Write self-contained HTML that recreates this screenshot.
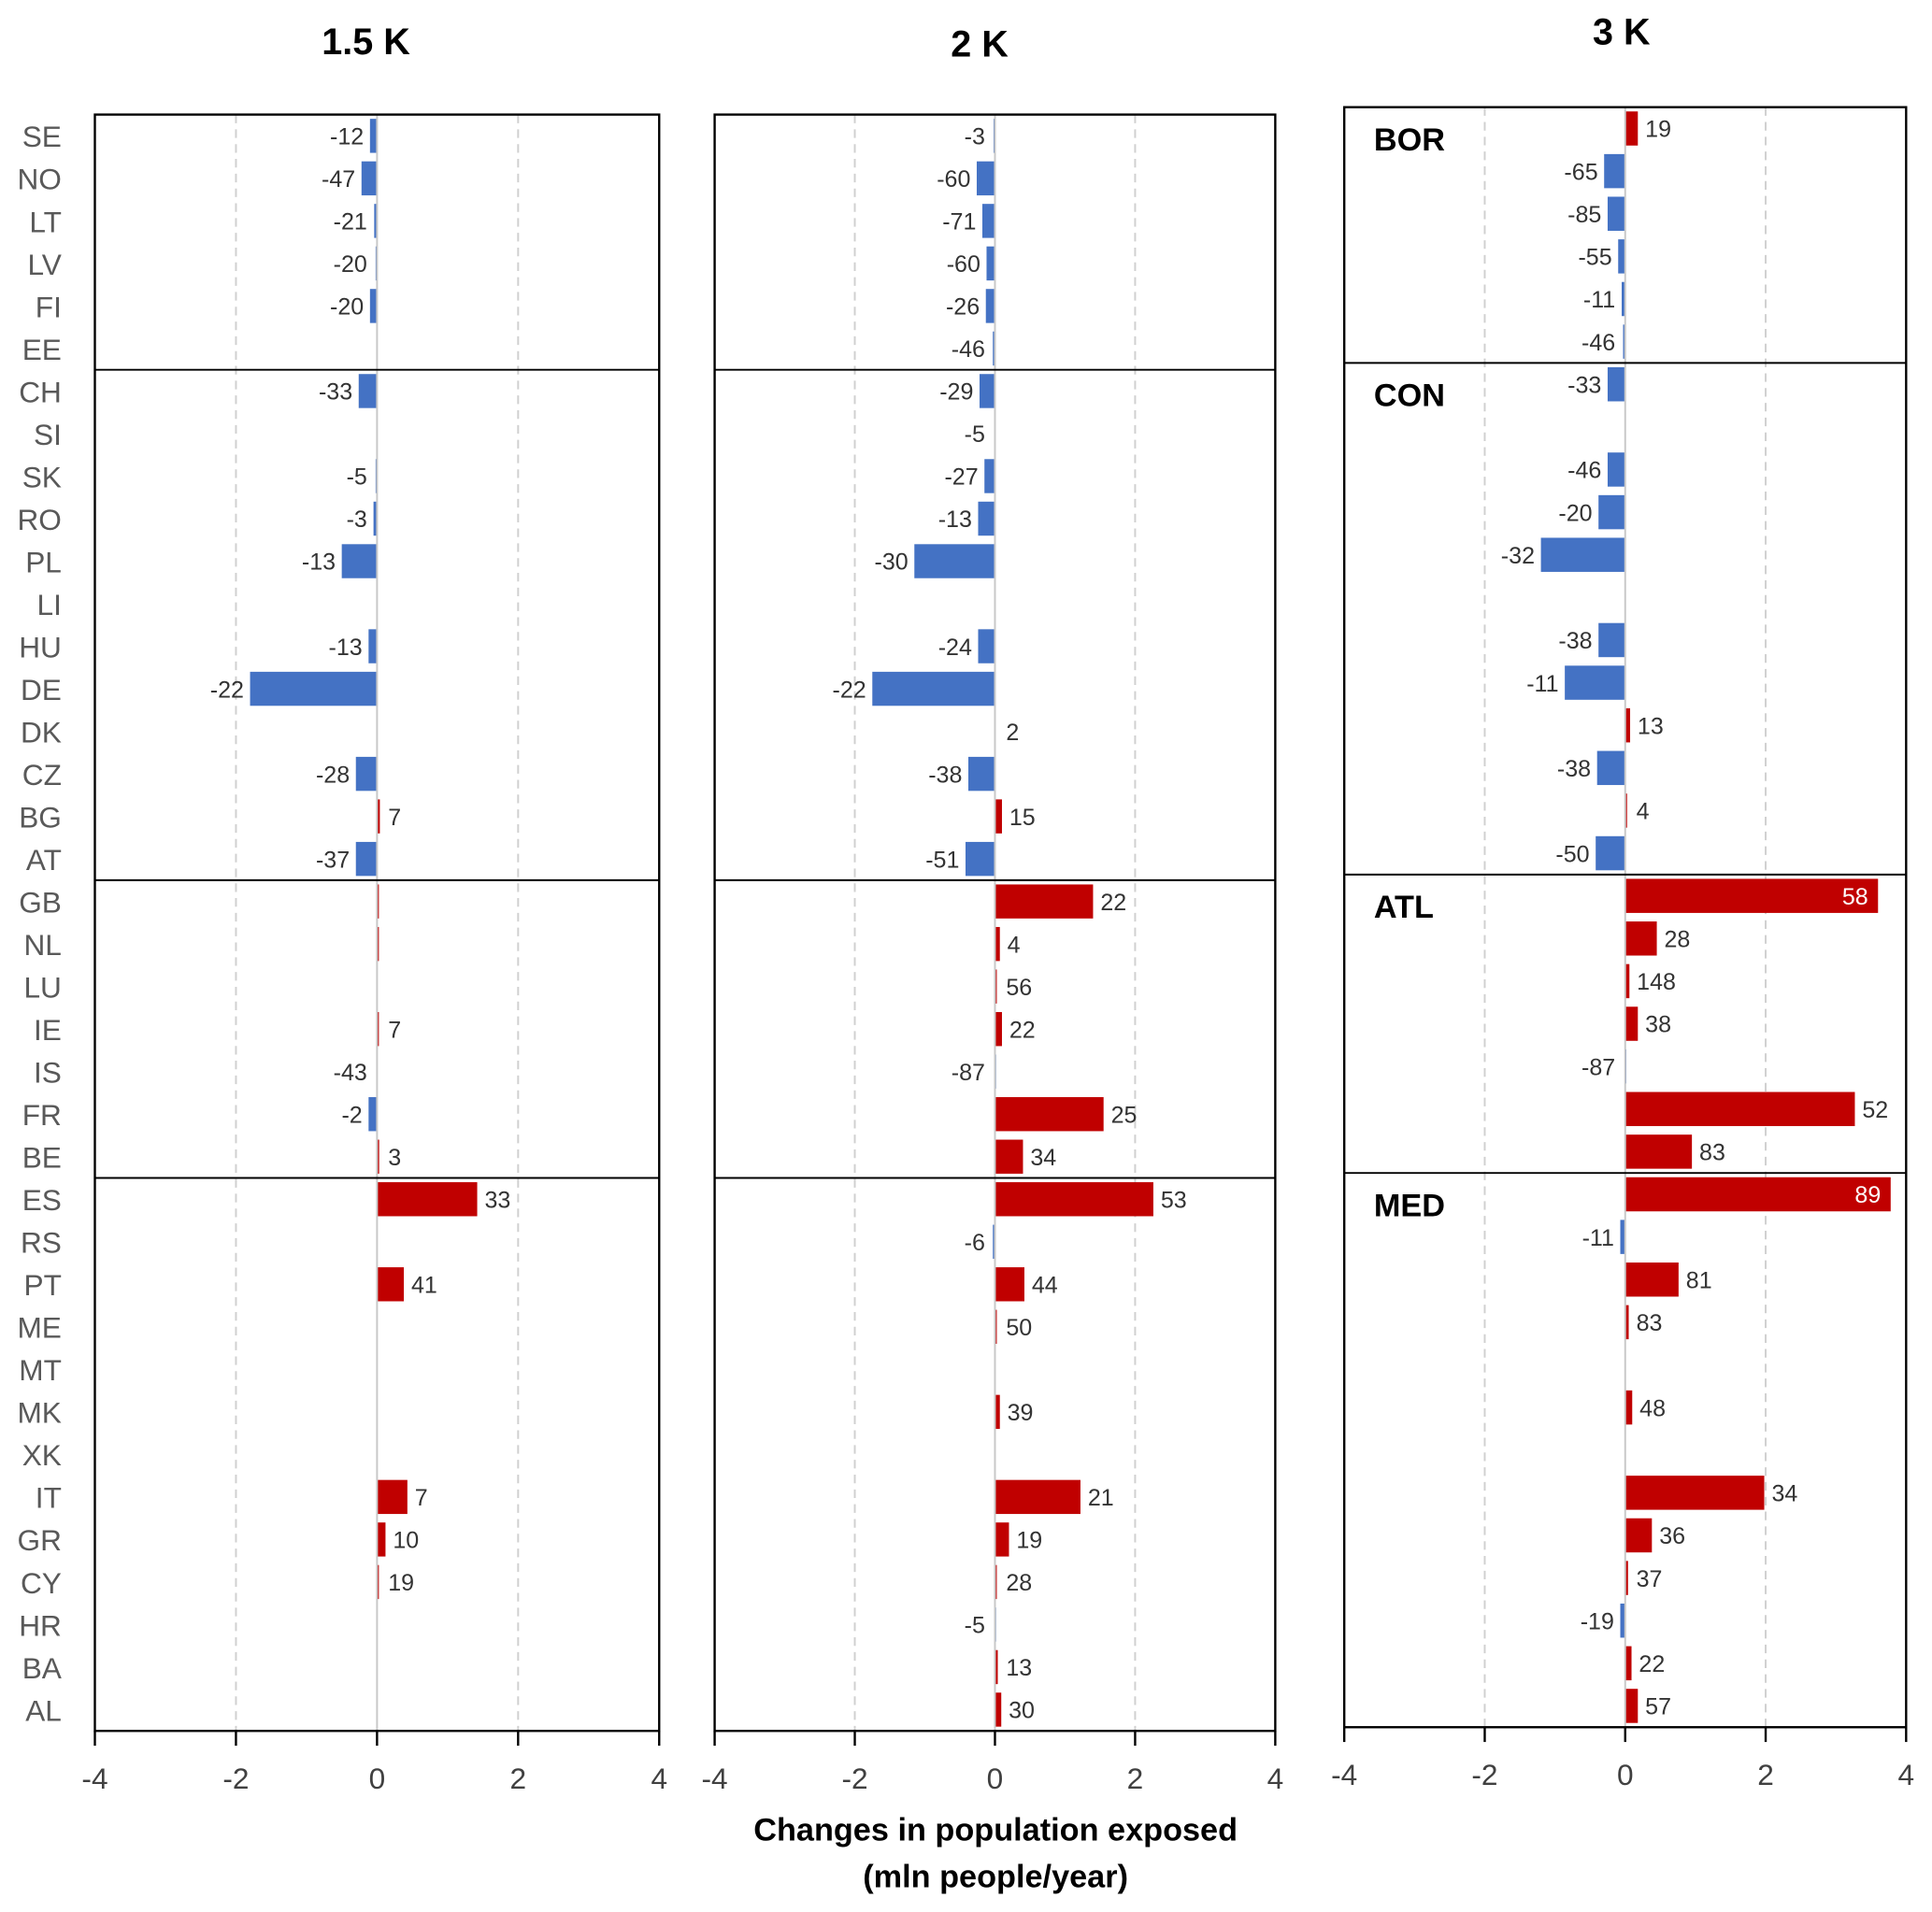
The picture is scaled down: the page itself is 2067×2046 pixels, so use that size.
<!DOCTYPE html>
<html><head><meta charset="utf-8"><style>
html,body{margin:0;padding:0;background:#fff;}
svg{display:block;font-family:"Liberation Sans",sans-serif;}
</style></head><body>
<svg id="chart" width="2067" height="2046" viewBox="0 0 1568 1552" preserveAspectRatio="none" xmlns="http://www.w3.org/2000/svg"></svg>
<script>
const categories = ["SE","NO","LT","LV","FI","EE","CH","SI","SK","RO","PL","LI","HU","DE","DK","CZ","BG","AT","GB","NL","LU","IE","IS","FR","BE","ES","RS","PT","ME","MT","MK","XK","IT","GR","CY","HR","BA","AL"];
const regions = ["BOR","CON","ATL","MED"];
const regionSizes = [6,12,7,13];
const panelTitles = ["1.5 K","2 K","3 K"];
const xTicks = [-4,-2,0,2,4];
const values15 = [-0.1,-0.22,-0.04,-0.02,-0.1,0,-0.26,0,-0.02,-0.05,-0.5,0,-0.12,-1.8,0,-0.3,0.04,-0.3,0.01,0.005,0,0.02,0,-0.12,0.03,1.42,0,0.38,0,0,0,0,0.43,0.12,0.01,0,0,0];
const labels15 = ["-12","-47","-21","-20","-20","","-33","","-5","-3","-13","","-13","-22","","-28","7","-37","","","","7","-43","-2","3","33","","41","","","","","7","10","19","","",""];
const values2 = [-0.02,-0.26,-0.18,-0.12,-0.13,-0.03,-0.22,0,-0.15,-0.24,-1.15,0,-0.24,-1.75,0,-0.38,0.1,-0.42,1.4,0.07,0.02,0.1,-0.01,1.55,0.4,2.26,-0.03,0.42,0.02,0,0.07,0,1.22,0.2,0.02,-0.01,0.04,0.09];
const labels2 = ["-3","-60","-71","-60","-26","-46","-29","-5","-27","-13","-30","","-24","-22","2","-38","15","-51","22","4","56","22","-87","25","34","53","-6","44","50","","39","","21","19","28","-5","13","30"];
const values3 = [0.18,-0.3,-0.25,-0.1,-0.05,-0.03,-0.25,0,-0.25,-0.38,-1.2,0,-0.38,-0.86,0.07,-0.4,0.02,-0.42,3.6,0.45,0.06,0.18,-0.01,3.27,0.95,3.78,-0.07,0.76,0.05,0,0.1,0,1.98,0.38,0.04,-0.07,0.09,0.18];
const labels3 = ["19","-65","-85","-55","-11","-46","-33","","-46","-20","-32","","-38","-11","13","-38","4","-50","58","28","148","38","-87","52","83","89","-11","81","83","","48","","34","36","37","-19","22","57"];

const NS="http://www.w3.org/2000/svg";
const svg=document.getElementById('chart');
function mk(tag,attrs,parent){const e=document.createElementNS(NS,tag);for(const k in attrs)e.setAttribute(k,attrs[k]);(parent||svg).appendChild(e);return e;}

const panels=[
 {x0:77,x1:535,y0:93,y1:1405,vals:values15,labs:labels15,title:panelTitles[0],tx:297,ty:44,name:'panel-1-5k',cats:true,reg:false},
 {x0:580,x1:1035,y0:93,y1:1405,vals:values2,labs:labels2,title:panelTitles[1],tx:795,ty:46,name:'panel-2k',cats:false,reg:false},
 {x0:1091,x1:1547,y0:87,y1:1402,vals:values3,labs:labels3,title:panelTitles[2],tx:1316,ty:36,name:'panel-3k',cats:false,reg:true}
];

panels.forEach((p,pi)=>{
  const g=mk('g',{});
  
  
  const xs=v=>p.x0+(v+4)/8*(p.x1-p.x0);
  const n=categories.length;
  const rh=(p.y1-p.y0)/n;
  const ys=i=>p.y0+(i+0.5)*rh;
  const t=mk('text',{x:p.tx,y:p.ty,'text-anchor':'middle','font-size':30,'font-weight':'bold',fill:'#000'},g);
  t.textContent=p.title;
  
  
  xTicks.forEach(v=>{
    if(v===-2||v===2){const l=mk('line',{x1:xs(v),x2:xs(v),y1:p.y0,y2:p.y1,stroke:'#d0d0d0','stroke-width':1.5,'stroke-dasharray':'7,5'},g);
      
      }
  });
  p.vals.forEach((v,i)=>{
    const y=ys(i), h=rh*0.8;
    if(v!==0){
      const a=xs(0),b=xs(v);
      const r=mk('rect',{x:Math.min(a,b),y:y-h/2,width:Math.max(Math.abs(b-a),1.5),height:h,fill:v>0?'#c00000':'#4472c4'},g);
      
      
    }
    const lab=p.labs[i];
    if(lab!==''){
      let x,anchor,fill='#333';
      if(v>=3.5){x=xs(v)-8;anchor='end';fill='#fff';}
      else if(v>0||(v===0&&!lab.startsWith('-'))){x=Math.max(xs(v),xs(0)+3)+6;anchor='start';}
      else {x=Math.min(xs(v),xs(0)-3)-5;anchor='end';}
      const tl=mk('text',{x:x,y:y+7,'text-anchor':anchor,'font-size':19,fill:fill},g);
      tl.textContent=lab;
      
      
    }
    if(p.cats){
      const c=mk('text',{x:50,y:y+9,'text-anchor':'end','font-size':24,fill:'#595959'},g);
      c.textContent=categories[i];
      
      
    }
  });
  const z=mk('line',{x1:xs(0),x2:xs(0),y1:p.y0,y2:p.y1,stroke:'#c8c8c8','stroke-width':1.5},g);
  
  
  let acc=0;
  regionSizes.forEach((s,ri)=>{
    if(p.reg){
      const rt=mk('text',{x:p.x0+24,y:p.y0+acc*rh+35,'font-size':26,'font-weight':'bold',fill:'#000'},g);
      rt.textContent=regions[ri];
      
      
    }
    acc+=s;
    if(ri<regionSizes.length-1){
      const d=mk('line',{x1:p.x0,x2:p.x1,y1:p.y0+acc*rh,y2:p.y0+acc*rh,stroke:'#000','stroke-width':1.5},g);
      
      
    }
  });
  const fr=mk('rect',{x:p.x0,y:p.y0,width:p.x1-p.x0,height:p.y1-p.y0,fill:'none',stroke:'#000','stroke-width':1.8},g);
  
  
  xTicks.forEach(v=>{
    const tk=mk('line',{x1:xs(v),x2:xs(v),y1:p.y1,y2:p.y1+12,stroke:'#000','stroke-width':1.8},g);
    
    
    const tt=mk('text',{x:xs(v),y:p.y1+47,'text-anchor':'middle','font-size':24,fill:'#404040'},g);
    tt.textContent=String(v);
    
    
  });
});
const at1=mk('text',{x:808,y:1494,'text-anchor':'middle','font-size':26,'font-weight':'bold',fill:'#000'});
at1.textContent='Changes in population exposed';


const at2=mk('text',{x:808,y:1532,'text-anchor':'middle','font-size':26,'font-weight':'bold',fill:'#000'});
at2.textContent='(mln people/year)';


</script>
</body></html>
